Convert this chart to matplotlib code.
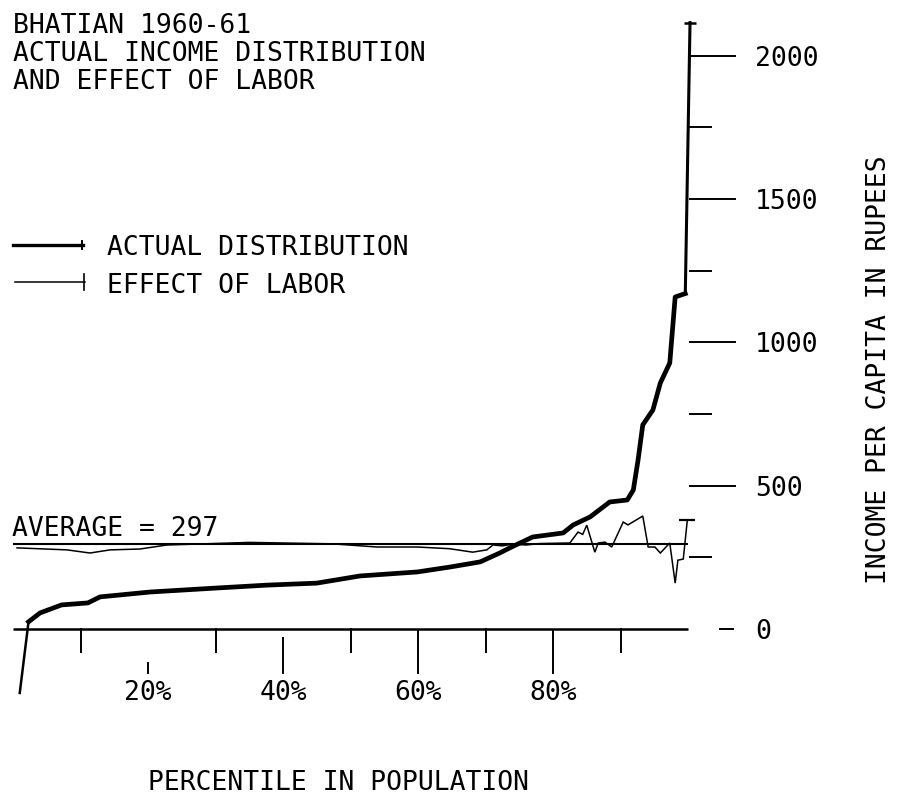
import numpy as np
import matplotlib
matplotlib.use("Agg")
import matplotlib.pyplot as plt
from matplotlib.lines import Line2D
from matplotlib.transforms import offset_copy

# actual income distribution (percentile, rupees per capita)
pct_actual = [1.0, 2.3, 4.0, 7.2, 11.1, 12.9, 20.3, 30.2, 37.6, 45.0, 51.4, 59.9,
              64.7, 69.2, 72.1, 73.6, 77.0, 81.5, 83.0, 85.5, 88.4, 91.0, 91.9,
              92.6, 93.3, 94.8, 95.9, 97.3, 98.1, 99.6, 100.3]
inc_actual = [-223, 25, 56, 84, 91, 112, 129, 143, 153, 160, 185, 199,
              216, 234, 265, 283, 321, 335, 363, 391, 443, 450, 485,
              589, 712, 764, 858, 928, 1158, 1170, 2115]

# effect of labor
pct_labor = [0.6, 8.0, 11.4, 14.4, 18.8, 22.8, 35.0, 47.4, 53.9, 59.9, 64.7, 68.1,
             70.2, 71.1, 72.5, 74.0, 76.0, 78.0, 82.5, 83.7, 84.4, 85.0, 86.2, 86.7,
             87.7, 88.7, 90.4, 91.1, 93.3, 94.1, 95.1, 95.9, 97.3, 98.1, 98.5, 99.3, 99.9]
inc_labor = [283, 276, 265, 276, 279, 293, 302, 297, 286, 286, 280, 268,
             276, 293, 290, 296, 293, 298, 300, 338, 330, 362, 268, 300,
             303, 286, 373, 363, 394, 286, 286, 265, 300, 160, 240, 244, 380]

average = 297
y_major = [0, 500, 1000, 1500, 2000]
y_minor = [250, 750, 1250, 1750]
x_minor = [10, 30, 50, 70, 90]
x_major = [20, 40, 60, 80]
x_major_top = [-119, -31, -5, -5]   # plotter left gaps at the top of these ticks
x_labels = ["20%", "40%", "60%", "80%"]

title_lines = ["BHATIAN 1960-61", "ACTUAL INCOME DISTRIBUTION", "AND EFFECT OF LABOR"]

W, H = 899, 805
FONT = "DejaVu Sans Mono"
FS = 19

fig = plt.figure(figsize=(W / 100, H / 100), dpi=100)
fig.patch.set_facecolor("white")
ax = fig.add_axes([0, 0, 1, 1])
# map percentile/rupees onto the page (13px = 0%, 6.75px per %, 629px = 0 Rs, 0.2867px per Rs)
ax.set_xlim(-13 / 6.75, (W - 13) / 6.75)
ax.set_ylim((629 - H) / 0.2867, 629 / 0.2867)
ax.axis("off")


def fx(x):
    return x / W


def fy(y):
    return 1 - y / H


# zero line and average line
ax.plot([0, 100], [0, 0], color="black", lw=1.8, solid_capstyle="butt")
ax.plot([0, 100], [average, average], color="black", lw=1.5, solid_capstyle="butt")
ax.text(-0.1, average, "AVERAGE = 297", family=FONT, fontsize=FS, ha="left", va="baseline",
        transform=offset_copy(ax.transData, fig, y=8, units="dots"))

# x ticks
for x in x_minor:
    ax.plot([x, x], [0, -80], color="black", lw=1.4)
for x, top, lab in zip(x_major, x_major_top, x_labels):
    ax.plot([x, x], [top, -153], color="black", lw=1.4)
    ax.text(x, -213, lab, family=FONT, fontsize=FS, ha="center", va="baseline",
            transform=offset_copy(ax.transData, fig, y=-10, units="dots"))

# y ticks floating right of the curve
for v in y_major:
    if v == 0:
        ax.plot([104.7, 106.7], [v, v], color="black", lw=1.4)
    else:
        ax.plot([100.3, 107.0], [v, v], color="black", lw=1.4)
    ax.text(109.9, v, str(v), family=FONT, fontsize=FS, ha="left", va="baseline",
            transform=offset_copy(ax.transData, fig, y=-10, units="dots"))
for v in y_minor:
    ax.plot([100.3, 103.4], [v, v], color="black", lw=1.4)

# effect of labor (thin)
ax.plot(pct_labor, inc_labor, color="black", lw=1.1, solid_joinstyle="miter")
ax.plot(pct_labor[-1], inc_labor[-1], marker="_", color="black", ms=12, mew=1.6)

# actual distribution (thick, thinner at both ends)
ax.plot(pct_actual[:2], inc_actual[:2], color="black", lw=1.8)
ax.plot(pct_actual[1:-1], inc_actual[1:-1], color="black", lw=3.4, solid_joinstyle="round")
ax.plot(pct_actual[-2:], inc_actual[-2:], color="black", lw=2.2)
ax.plot(pct_actual[-1], inc_actual[-1], marker="_", color="black", ms=8, mew=1.8)

# title
for i, line in enumerate(title_lines):
    fig.text(fx(13), fy(33 + 28 * i), line, family=FONT, fontsize=FS, ha="left", va="baseline")

# legend
fig.add_artist(Line2D([fx(13), fx(83)], [fy(245), fy(245)], color="black", lw=2.4))
fig.add_artist(Line2D([fx(82), fx(82)], [fy(241), fy(249)], color="black", lw=1.4))
fig.add_artist(Line2D([fx(15), fx(85)], [fy(282), fy(282)], color="black", lw=1.1))
fig.add_artist(Line2D([fx(84), fx(84)], [fy(274), fy(290)], color="black", lw=1.2))
fig.text(fx(107), fy(255), "ACTUAL DISTRIBUTION", family=FONT, fontsize=FS, ha="left", va="baseline")
fig.text(fx(107), fy(293), "EFFECT OF LABOR", family=FONT, fontsize=FS, ha="left", va="baseline")

# axis titles
fig.text(fx(338), fy(790), "PERCENTILE IN POPULATION", family=FONT, fontsize=FS,
         ha="center", va="baseline")
fig.text(fx(879), fy(370), "INCOME PER CAPITA IN RUPEES", family=FONT, fontsize=FS,
         ha="center", va="center", rotation=90)

fig.savefig("out.png", dpi=100, facecolor="white")
